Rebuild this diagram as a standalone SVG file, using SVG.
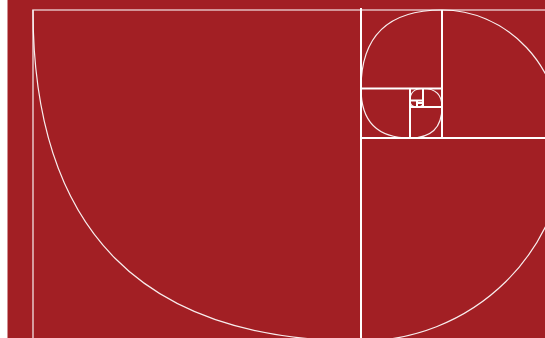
<svg xmlns="http://www.w3.org/2000/svg" width="545" height="338" viewBox="0 0 545 338">
  <style>
    .frame { fill: none; stroke: #ffffff; stroke-opacity: 0.7; stroke-width: 1.6; }
    .grid { fill: none; stroke: #ffffff; stroke-width: 2; }
    .arc { fill: none; stroke: #ffffff; stroke-opacity: 0.92; stroke-width: 1.2; }
  </style>
  <rect x="0" y="0" width="545" height="338" fill="#ffffff"/>
  <rect x="7.5" y="0" width="537.5" height="338" fill="#a21f24"/>
  <g id="frame">
    <path class="frame" d="M33,338 V10 H545"/>
  </g>
  <g id="squares">
    <path class="grid" d="M361,8 V338"/>
    <path class="grid" d="M361,138 H545"/>
    <path class="grid" d="M442,10 V138"/>
    <path class="grid" d="M361,88.5 H442"/>
    <path class="grid" d="M410,88.5 V138"/>
    <path class="grid" d="M410,107 H442"/>
    <path class="grid" d="M423,88.5 V107"/>
    <path class="grid" d="M410,100.5 H423"/>
    <path class="grid" d="M417,100.5 V107"/>
    <path class="grid" d="M417,103 H423"/>
  </g>
  <g id="spiral">
    <path class="arc" d="M33,10 Q33,341 361,341"/>
    <path class="arc" d="M361,341 A205,203 0 0 0 566,138"/>
    <path class="arc" d="M442,10 A119.5,128 0 0 1 561.5,138"/>
    <path class="arc" d="M442,10 Q361,10 361,88.5"/>
    <path class="arc" d="M361,88.5 Q361,138 410,138"/>
    <path class="arc" d="M410,138 Q442,138 442,107"/>
    <path class="arc" d="M442,107 Q442,88.5 423,88.5"/>
    <path class="arc" d="M423,88.5 Q410,88.5 410,100.5"/>
    <path class="arc" d="M410,100.5 Q410,107 417,107"/>
    <path class="arc" d="M417,107 Q423,107 423,103"/>
  </g>
</svg>
